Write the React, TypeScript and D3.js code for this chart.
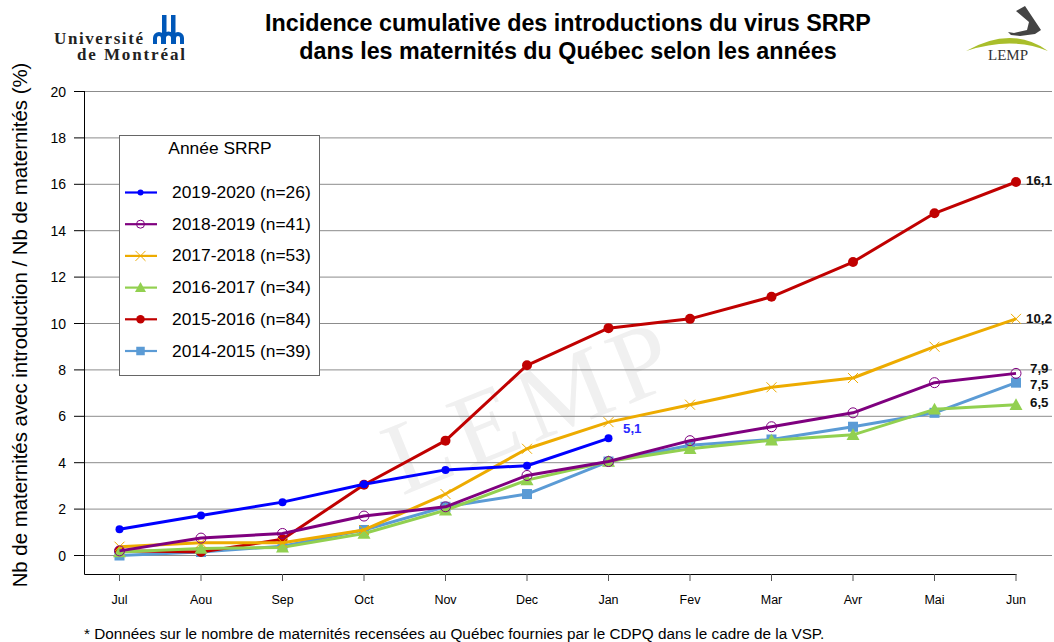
import React from "react";
import * as d3 from "d3";

const months = ["Jul","Aou","Sep","Oct","Nov","Dec","Jan","Fev","Mar","Avr","Mai","Jun"];
const yTicks = [0,2,4,6,8,10,12,14,16,18,20];
const s1415 = [0,0.15,0.4,1.1,2.1,2.65,4.05,4.75,5.0,5.55,6.15,7.45];
const s1516 = [0.2,0.15,0.7,3.05,4.95,8.2,9.8,10.2,11.15,12.65,14.75,16.1];
const s1617 = [0.15,0.3,0.35,0.95,1.95,3.25,4.05,4.6,4.97,5.2,6.3,6.5];
const s1718 = [0.38,0.55,0.55,1.1,2.65,4.6,5.75,6.5,7.25,7.65,9.0,10.2];
const s1819 = [0.2,0.75,0.95,1.7,2.1,3.45,4.05,4.95,5.55,6.15,7.45,7.85];
const s1920 = [1.13,1.72,2.3,3.07,3.69,3.87,5.05];

const drawOrder = [
  { name: "2014-2015 (n=39)", values: s1415, color: "#5B9BD5", w: 3, marker: "square" },
  { name: "2015-2016 (n=84)", values: s1516, color: "#C00000", w: 3, marker: "bigdot" },
  { name: "2016-2017 (n=34)", values: s1617, color: "#92D050", w: 3, marker: "triangle" },
  { name: "2017-2018 (n=53)", values: s1718, color: "#EDAB00", w: 3, marker: "x" },
  { name: "2018-2019 (n=41)", values: s1819, color: "#7F007F", w: 3, marker: "ring" },
  { name: "2019-2020 (n=26)", values: s1920, color: "#0000FF", w: 3, marker: "dot" },
];
const endLabels = [
  { t: "16,1", y: 180 }, { t: "10,2", y: 318 }, { t: "7,9", y: 368 }, { t: "7,5", y: 384 }, { t: "6,5", y: 402 },
];
const FONT = "'Liberation Sans', Arial, sans-serif";
const SERIF = "'Liberation Serif', serif";

const x = d3.scalePoint<string>().domain(months).range([119.5, 1016]);
const y = d3.scaleLinear().domain([0, 20]).range([555.5, 91.5]);

function Marker({ kind, cx, cy, color, legend }: any) {
  const k = legend ? 0.85 : 1;
  switch (kind) {
    case "square": { const r = 5 * k; return <rect x={cx - r} y={cy - r} width={2 * r} height={2 * r} fill={color} />; }
    case "bigdot": { const r = 5 * k; return <circle cx={cx} cy={cy} r={r} fill={color} />; }
    case "dot": return <circle cx={cx} cy={cy} r={legend ? 3 : 4} fill={color} />;
    case "ring": return <circle cx={cx} cy={cy} r={legend ? 4 : 5} fill="none" stroke={color} strokeWidth={1} />;
    case "triangle": { const r = 6.5 * k; return <path d={`M${cx},${cy - r}L${cx + r},${cy + r * 0.8}L${cx - r},${cy + r * 0.8}Z`} fill={color} />; }
    case "x": { const r = 5; return <path d={`M${cx - r},${cy - r}L${cx + r},${cy + r}M${cx - r},${cy + r}L${cx + r},${cy - r}`} stroke={color} strokeWidth={1} fill="none" />; }
  }
  return null;
}

export default function App() {
  const line = d3.line<number>().x((_, i) => x(months[i])!).y((v) => y(v));
  const legendOrder = [...drawOrder].reverse();
  return (
    <svg width={1054} height={642} style={{ position: "absolute", left: 0, top: 0, background: "#fff" }} fontFamily={FONT}>
      {/* watermark */}
      <text transform="translate(402,496) rotate(-22)" fontFamily={SERIF} fontSize={104} fill="#f0f0f0" textLength={300}>LEMP</text>

      {/* title */}
      <text x={568} y={31} textAnchor="middle" fontSize={23.3} fontWeight={700} fill="#000">Incidence cumulative des introductions du virus SRRP</text>
      <text x={568} y={59} textAnchor="middle" fontSize={23.3} fontWeight={700} fill="#000">dans les maternités du Québec selon les années</text>

      {/* UdeM logo */}
      <text x={54} y={43.5} fontFamily={SERIF} fontSize={17} fontWeight={700} fill="#222" textLength={89} lengthAdjust="spacing">Université</text>
      <text x={77} y={60} fontFamily={SERIF} fontSize={17} fontWeight={700} fill="#222" textLength={108} lengthAdjust="spacing">de Montréal</text>
      <g fill="#0057B8">
        <rect x={162} y={15} width={4.5} height={20} />
        <rect x={171} y={15} width={4.5} height={20} />
        <path d="M153,44V38A6,6 0 0 1 165,38V44H161V38A2,2 0 0 0 157,38V44Z" />
        <path d="M162,44V38A6,6 0 0 1 175,38V44H171V38A2,2 0 0 0 166,38V44Z" />
        <path d="M172,44V38A6,6 0 0 1 184,38V44H180V38A2,2 0 0 0 176,38V44Z" />
      </g>

      {/* LEMP logo */}
      <path d="M1016,11L1025,6L1041,30L1035,34L1020,36L1011,35L1008,32L1014,33L1027,30L1029,22Z" fill="#444" />
      <path d="M966,51Q1012,25 1048,51Q1012,36 966,51Z" fill="#A9BE2B" />
      <text x={1008} y={60} textAnchor="middle" fontFamily={SERIF} fontSize={15} fill="#333">LEMP</text>

      {/* grid */}
      {yTicks.map((t) => (
        <line key={t} x1={85} x2={1052} y1={y(t)} y2={y(t)} stroke="#8c8c8c" strokeWidth={1} />
      ))}

      {/* y axis */}
      <line x1={84.5} x2={84.5} y1={91} y2={574.5} stroke="#000" />
      {yTicks.map((t) => (
        <g key={t}>
          <line x1={74} x2={85} y1={y(t)} y2={y(t)} stroke="#000" />
          <text x={66} y={y(t) + 5} textAnchor="end" fontSize={14} fill="#000">{t}</text>
        </g>
      ))}
      <text transform="translate(27,325) rotate(-90)" textAnchor="middle" fontSize={20.4} fill="#000">Nb de maternités avec introduction / Nb de maternités (%)</text>

      {/* x axis */}
      <line x1={84.5} x2={1016.5} y1={574.5} y2={574.5} stroke="#000" />
      {months.map((m) => (
        <g key={m}>
          <line x1={x(m)} x2={x(m)} y1={574} y2={581} stroke="#555" />
          <text x={x(m)} y={604} textAnchor="middle" fontSize={12.5} fill="#000">{m}</text>
        </g>
      ))}

      {/* series */}
      {drawOrder.map((s) => (
        <g key={s.name}>
          {s.values.map((v, i) => s.marker !== "ring" && s.marker !== "x" ? (
            <Marker key={i} kind={s.marker} cx={x(months[i])} cy={y(v)} color={s.color} />
          ) : null)}
          <path d={line(s.values)!} fill="none" stroke={s.color} strokeWidth={s.w} strokeLinejoin="round" />
          {s.values.map((v, i) => s.marker === "ring" || s.marker === "x" ? (
            <Marker key={i} kind={s.marker} cx={x(months[i])} cy={y(v)} color={s.color} />
          ) : null)}
        </g>
      ))}

      {/* value labels */}
      {endLabels.map((l) => (
        <text key={l.t} x={1030} y={l.y + 5} fontSize={13.3} fontWeight={700} fill="#111" dx={l.t.length > 3 ? -4 : 0}>{l.t}</text>
      ))}
      <text x={623} y={433} fontSize={13.3} fontWeight={700} fill="#2a2aff">5,1</text>

      {/* legend */}
      <rect x={119.5} y={135.5} width={200} height={240} fill="#fff" stroke="#666" strokeWidth={1} />
      <text x={220} y={154} textAnchor="middle" fontSize={17.4} fill="#000">Année SRRP</text>
      {legendOrder.map((s, i) => {
        const ly = 192.5 + i * 31.7;
        return (
          <g key={s.name}>
            <line x1={125} x2={157} y1={ly} y2={ly} stroke={s.color} strokeWidth={2.2} />
            <Marker kind={s.marker} cx={140.5} cy={ly} color={s.color} legend />
            <text x={172} y={ly + 5.5} fontSize={17.4} fill="#000">{s.name}</text>
          </g>
        );
      })}

      {/* footnote */}
      <text x={84} y={639} fontSize={15.3} fill="#000">* Données sur le nombre de maternités recensées au Québec fournies par le CDPQ dans le cadre de la VSP.</text>
    </svg>
  );
}
